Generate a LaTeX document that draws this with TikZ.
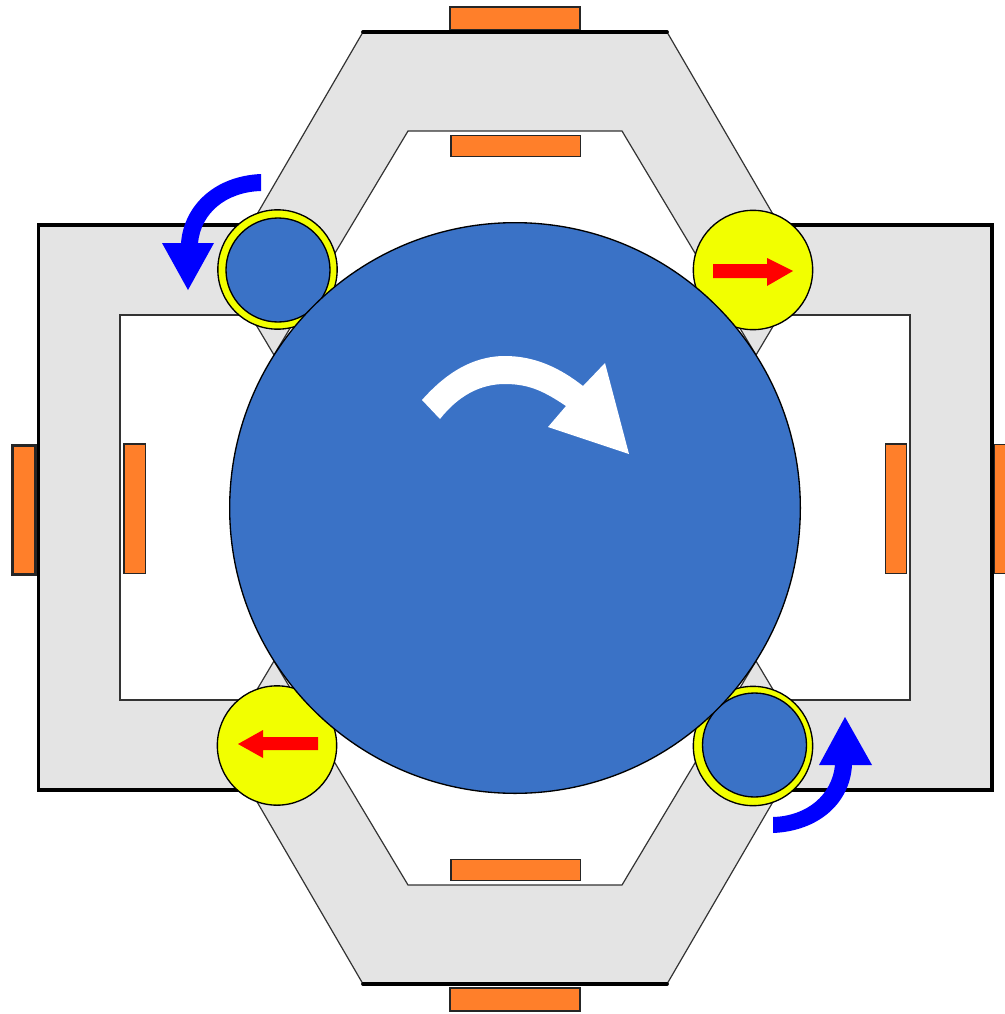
\documentclass[tikz,border=0pt]{standalone}
\definecolor{rotorblue}{RGB}{58,114,198}
\definecolor{yokegray}{RGB}{228,228,228}
\definecolor{coilorange}{RGB}{255,127,42}
\definecolor{wheelyellow}{RGB}{242,255,0}
\tikzset{
  yoke/.style   ={draw=black!80, line width=0.9pt, fill=yokegray, line join=miter},
  rim/.style    ={draw, line width=2.8pt, line cap=round},
  hcoil/.style  ={draw=black!85, line width=1pt, fill=coilorange, inner sep=0pt, outer sep=0pt, minimum width=97pt, minimum height=16pt},
  vcoil/.style  ={draw=black!85, line width=1pt, fill=coilorange, inner sep=0pt, outer sep=0pt, minimum width=16pt, minimum height=97pt},
  wheel/.style  ={circle, draw, line width=1pt, fill=wheelyellow, inner sep=0pt, outer sep=0pt, minimum size=89.5pt},
  hub/.style    ={circle, draw, line width=1pt, fill=rotorblue, inner sep=0pt, outer sep=0pt, minimum size=78pt},
  rotor/.style  ={circle, draw, line width=1pt, fill=rotorblue, inner sep=0pt, outer sep=0pt, minimum size=428pt},
  push/.style   ={fill=red},
  spin/.style   ={fill=blue},
  turn/.style   ={fill=white},
}
\begin{document}
\begin{tikzpicture}[x=0.75pt,y=-0.75pt]
  \clip (0,0) rectangle (1005,1014);

  % coils behind the rims
  \node[hcoil, minimum width=98pt, minimum height=17pt, line width=1.5pt] (coilTo) at (515,18.5) {};
  \node[hcoil, minimum width=98pt, minimum height=17pt, line width=1.5pt] (coilBo) at (515,999.5) {};
  \node[vcoil, minimum width=17pt, minimum height=97pt, line width=1.8pt] (coilLo) at (24,510) {};
  \node[vcoil, minimum width=17pt] (coilRo) at (1006,509) {};

  % side yokes
  \draw[yoke] (277,225) -- (38,225) -- (38,790) -- (277,790) -- (277,700) -- (120,700) -- (120,315) -- (277,315) -- cycle;
  \draw[yoke] (753,225) -- (992,225) -- (992,790) -- (753,790) -- (753,700) -- (910,700) -- (910,315) -- (753,315) -- cycle;
  \draw[rim] (277,225) -- (38.5,225) -- (38.5,790) -- (277,790);
  \draw[rim] (753,225) -- (992,225) -- (992,790) -- (753,790);

  % top and bottom yokes
  \draw[yoke] (363,32) -- (667,32) -- (806,271) -- (756,355) -- (622,131) -- (408,131) -- (274,355) -- (224,271) -- cycle;
  \draw[yoke] (363,984) -- (667,984) -- (806,745) -- (756,661) -- (622,885) -- (408,885) -- (274,661) -- (224,745) -- cycle;
  \draw[rim] (363,32) -- (667,32);
  \draw[rim] (363,984) -- (667,984);

  % inner coils
  \node[hcoil] (coilTi) at (515.5,146) {};
  \node[hcoil] (coilBi) at (515.5,870) {};
  \node[vcoil] (coilLi) at (134.5,508.5) {};
  \node[vcoil] (coilRi) at (896,508.5) {};

  % wheels
  \node[wheel] (wheelTL) at (277.5,269.5) {};
  \node[hub] (hubTL) at (278,270) {};
  \node[wheel] (wheelTR) at (753,270) {};
  \node[wheel] (wheelBL) at (277,745.5) {};
  \node[wheel] (wheelBR) at (753,746) {};
  \node[hub] (hubBR) at (754.5,745) {};

  \node[rotor] (rotor) at (515,508) {};

  % arrows
  \fill[push] (713,264) -- (767,264) -- (767,258) -- (793,271) -- (767,286) -- (767,278) -- (713,278) -- cycle;
  \fill[push] (318,737) -- (263,737) -- (263,730) -- (238,744) -- (263,758) -- (263,750) -- (318,750) -- cycle;
  \fill[spin] (261,174) .. controls (215,176) and (184,205) .. (181,243) -- (162,243) -- (188,290) -- (214,243) -- (198,243)
    .. controls (201,213) and (226,192) .. (261,191) -- cycle;
  \fill[spin] (773,833) .. controls (819,831) and (850,803) .. (852,765) -- (872,765) -- (845,717) -- (819,765) -- (835,765)
    .. controls (832,795) and (807,816) .. (773,817) -- cycle;
  \fill[turn] (422,400) .. controls (445,374) and (472,356) .. (505,356) .. controls (535,356) and (560,368) .. (583,386)
    -- (605,363) -- (629,454) -- (548,427) -- (566,406) .. controls (545,392) and (530,384) .. (505,384)
    .. controls (480,384) and (458,396) .. (440,419) -- cycle;
\end{tikzpicture}
\end{document}
